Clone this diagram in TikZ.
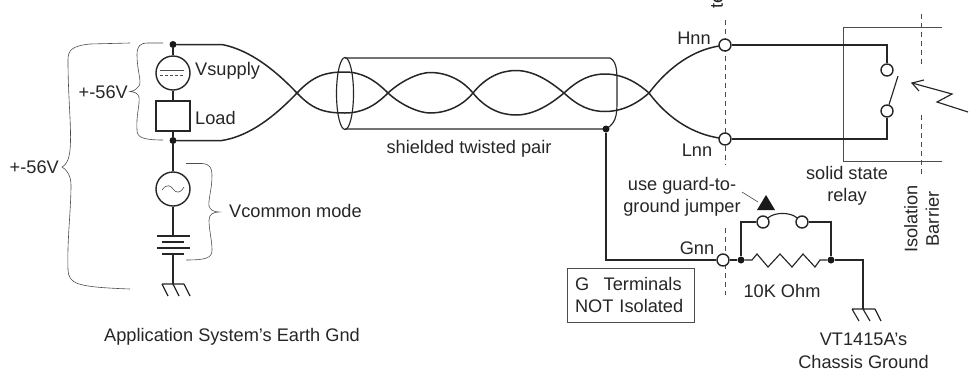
\documentclass[tikz,border=0pt]{standalone}
\usepackage{fontspec}
\setmainfont{Liberation Sans}
\tikzset{
  x=1pt,y=-1pt,
  wire/.style={line width=1.5pt,draw=black!85},
  med/.style={line width=1.15pt,draw=black!85},
  thin line/.style={line width=0.7pt,draw=black!70},
  brace line/.style={line width=0.6pt,draw=black!70},
  barrier/.style={line width=0.7pt,draw=black!70,dash pattern=on 5pt off 4pt},
  lbl/.style={font=\fontsize{18.2}{21.5}\selectfont,text=black!85,inner sep=0pt},
  dot/.style={circle,fill=black!90,draw=none,minimum size=7pt,inner sep=0pt},
  term/.style={circle,fill=white,draw=black!85,line width=1.4pt,minimum size=12pt,inner sep=0pt},
  src/.style={circle,fill=white,draw=black!85,line width=1.4pt,minimum size=34pt,inner sep=0pt},
}
\begin{document}
\begin{tikzpicture}
\useasboundingbox (0,0) rectangle (969,373);
% barrier lines
\coordinate (b1t) at (725.5,20); \coordinate (b1b) at (725.5,165);
\coordinate (b2t) at (725.5,228); \coordinate (b2b) at (725.5,295);
\draw[barrier] (b1t) -- (b1b);
\draw[barrier] (b2t) -- (b2b);
\coordinate (b3t) at (921,14); \coordinate (b3b) at (921,68);
\coordinate (b4t) at (921,115); \coordinate (b4b) at (921,176);
\draw[barrier] (b3t) -- (b3b);
\draw[barrier] (b4t) -- (b4b);
% relay box
\coordinate (ra) at (942,27.5); \coordinate (rb) at (843,27.5);
\coordinate (rc) at (843,161.5); \coordinate (rd) at (942,161.5);
\draw[thin line] (ra) -- (rb) -- (rc) -- (rd);
% left nodes
\node[dot] (top) at (173,44.5) {};
\node[dot] (bot) at (173,140.5) {};
\node[src] (vs) at (173,73) {};
\draw[line width=0.6pt,draw=black!70] (160,70.5) -- (184,70.5);
\draw[line width=0.6pt,draw=black!70,dash pattern=on 3pt off 2pt] (160,75.5) -- (184,75.5);
\node[draw=black!85,line width=1.6pt,fill=white,minimum width=34pt,minimum height=30pt,inner sep=0pt] (load) at (173,116) {};
\node[src] (ac) at (173,189) {};
\draw[line width=0.6pt,draw=black!70] (162,190) .. controls (167,183) and (171,186) .. (173,189) .. controls (176,193) and (180,194) .. (184,187);
\draw[wire] (top) -- (vs);
\draw[wire] (vs) -- (load);
\draw[wire] (load) -- (bot);
\draw[wire] (bot) -- (ac);
% battery
\coordinate (bat1) at (173,236); \coordinate (bat2) at (173,254.5);
\draw[med] (ac) -- (bat1);
\draw[med] (157,236) -- (190,236);
\draw[med] (162,242) -- (184,242);
\draw[med] (157,248) -- (190,248);
\draw[med] (162,254) -- (184,254);
% earth gnd
\coordinate (g1) at (173,284);
\draw[med] (bat2) -- (g1);
\draw[med] (162,284) -- (184,284) (162,284) -- (168,296) (173,284) -- (179,296) (184,284) -- (190,296);
% twisted pair
\coordinate (xa) at (297,93); \coordinate (xb) at (388,93); \coordinate (xc) at (473,93);
\coordinate (xd) at (564,93); \coordinate (xe) at (649,93);
\node[term] (hnn) at (725,45) {};
\node[term] (lnn) at (725,139) {};
\draw[wire,line cap=round] (top) -- (222,44.5) .. controls (250,50) and (275,70) .. (xa)
  .. controls (313,76) and (325,72) .. (345,72) .. controls (362,72) and (375,80) .. (xb)
  .. controls (402,80) and (420,72.5) .. (430,72.5) .. controls (450,72.5) and (465,83) .. (xc)
  .. controls (485,78) and (500,70.5) .. (516,70.5) .. controls (535,70.5) and (552,83) .. (xd)
  .. controls (578,80) and (590,74) .. (605,74) .. controls (625,74) and (640,85) .. (xe)
  .. controls (670,65) and (695,50) .. (hnn);
\draw[wire,line cap=round] (bot) -- (222,140.5) .. controls (250,136) and (275,116) .. (xa)
  .. controls (313,110) and (325,113) .. (345,113) .. controls (362,113) and (375,106) .. (xb)
  .. controls (402,106) and (420,113) .. (430,113) .. controls (450,113) and (465,103) .. (xc)
  .. controls (485,108) and (500,115) .. (516,115) .. controls (535,115) and (552,103) .. (xd)
  .. controls (578,106) and (590,111.5) .. (605,111.5) .. controls (625,111.5) and (640,101) .. (xe)
  .. controls (670,121) and (695,134) .. (lnn);
% shield
\coordinate (s1) at (345,58); \coordinate (s2) at (610,58);
\coordinate (s3) at (345,129); \coordinate (s4) at (606,129);
\draw[med] (345,93.5) ellipse [x radius=8.5, y radius=36];
\draw[med] (s1) -- (s2) .. controls (618,62) and (617,75) .. (617,93) .. controls (617,112) and (618,122) .. (s4) -- (s3);
% shield drain
\node[dot] (sd) at (606,129) {};
\node[term] (gnn) at (723,260) {};
\node[dot] (j1) at (741,260) {};
\node[dot] (j2) at (831,260) {};
\coordinate (dc) at (606,260);
\draw[wire] (sd) -- (dc) -- (gnn);
\draw[wire] (gnn) -- (j1);
% resistor
\draw[med] (j1) -- (752,260) -- (757,254) -- (768,267) -- (780,254) -- (792,267) -- (803,254) -- (815,267) -- (820,260) -- (j2);
% jumper
\node[term] (ja) at (763,222) {};
\node[term] (jb) at (802,222) {};
\coordinate (jl) at (741,222); \coordinate (jr) at (831,222);
\draw[wire] (j1) -- (jl) -- (ja);
\draw[wire] (j2) -- (jr) -- (jb);
\draw[med] (ja) .. controls (775,212) and (790,212) .. (jb);
% chassis ground
\coordinate (cg) at (863,260); \coordinate (cgb) at (863,309);
\draw[med] (j2) -- (cg) -- (cgb);
\draw[med] (852,309) -- (875,309) (852,309) -- (859,321) (863,309) -- (870,321) (875,309) -- (881,321);
% triangle pointer
\coordinate (tp) at (758,202);
\coordinate (tq) at (742,192);
\draw[line width=0.6pt,draw=black!70] (tq) -- (tp);
\fill[black!90] (757,210) -- (766,195) -- (775,210) -- cycle;
% switch
\node[term] (sw1) at (887,70) {};
\node[term] (sw2) at (887,111) {};
\coordinate (rt) at (887,45); \coordinate (rbt) at (887,139);
\draw[wire] (hnn) -- (rt) -- (sw1);
\draw[wire] (lnn) -- (rbt) -- (sw2);
\draw[med] (sw2) -- (898,76);
% lightning arrow
\coordinate (l0) at (968,112); \coordinate (l1) at (937,102); \coordinate (l2) at (952,94); \coordinate (l3) at (912,83);
\draw[med] (l0) -- (l1) -- (l2) -- (l3);
\draw[med] (924,80) -- (912,83) -- (919,91);
% braces
\coordinate (bi1) at (163,43); \coordinate (bi2) at (163,140);
\draw[brace line] (bi1) -- (148,43) .. controls (140,43) and (137,46) .. (137,55) .. controls (137,70) and (142,82) .. (139,86) .. controls (137,89) and (134,91) .. (130,91.5) .. controls (134,92) and (138,93) .. (139,97) .. controls (140,105) and (136,115) .. (137,130) .. controls (137,137) and (142,140) .. (bi2);
\coordinate (bo1) at (130,43); \coordinate (bo2) at (130,289);
\draw[brace line] (bo1) -- (90,44) .. controls (72,46) and (68,50) .. (68,60) .. controls (68,100) and (72,130) .. (70,150) .. controls (69,160) and (66,165) .. (62,167) .. controls (66,169) and (71,175) .. (71,185) .. controls (71,210) and (67,240) .. (68,270) .. controls (69,284) and (76,287) .. (bo2);
\coordinate (bv1) at (186,163.5); \coordinate (bv2) at (186,260);
\draw[brace line] (bv1) -- (202,163.5) .. controls (210,164) and (212,168) .. (212,175) .. controls (212,190) and (208,200) .. (209,206) .. controls (210,210) and (214,212) .. (219,212) .. controls (214,212) and (209,214) .. (209,220) .. controls (209,230) and (212,240) .. (212,250) .. controls (212,258) and (206,260) .. (bv2);
% text
\node[lbl,anchor=west] (tvs) at (195,71) {Vsupply};
\node[lbl,anchor=west] (tl) at (195,118) {Load};
\node[lbl,anchor=east] (t56a) at (128,92) {+-56V};
\node[lbl,anchor=east] (t56b) at (59,167) {+-56V};
\node[lbl,anchor=west] (tvc) at (229,211) {Vcommon mode};
\node[lbl,anchor=west] (tapp) at (104,337) {Application System's Earth Gnd};
\node[lbl,anchor=center] (tst) at (469,149) {shielded twisted pair};
\node[lbl,anchor=center] (thnn) at (694,38) {Hnn};
\node[lbl,anchor=center] (tlnn) at (697,150) {Lnn};
\node[lbl,anchor=center] (tgnn) at (697,248) {Gnn};
\node[lbl,align=center] (tug) at (682,197) {use guard-to-\\ground jumper};
\node[lbl,anchor=center] (tohm) at (782,291) {10K Ohm};
\node[lbl,align=center] (tssr) at (847,186) {solid state\\relay};
\node[lbl,align=center,rotate=90] (tiso) at (921.5,219) {Isolation\\Barrier};
\node[lbl,align=center] (tvt) at (863.5,351) {VT1415A's\\[1pt]Chassis Ground};
\node[lbl,draw=black!70,line width=0.7pt,align=left,text width=111pt,minimum width=127pt,minimum height=54pt,inner xsep=8pt,inner ysep=0pt,fill=white] (tg) at (630.5,295) {G\hspace{0.8em}Terminals\\[1pt]NOT Isolated};
\node[lbl,rotate=90,anchor=west] (tcut1) at (717,8.5) {te};
\node[lbl,rotate=90,anchor=west] (tcut2) at (741,1) {g};
\end{tikzpicture}
\end{document}
